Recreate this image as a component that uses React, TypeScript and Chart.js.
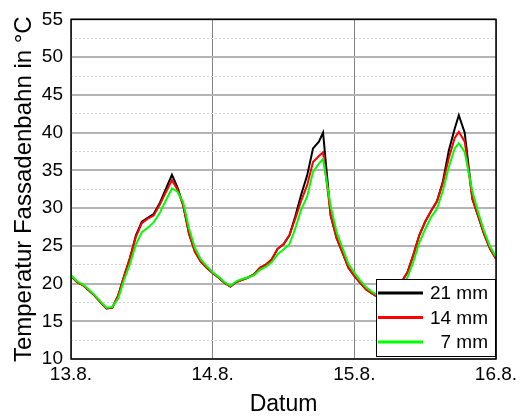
import React, { useEffect, useRef } from 'react';
import { Chart, registerables } from 'chart.js';

Chart.register(...registerables);

// time in hours since 13.8. 00:00
const hours = [
  0, 1, 2, 3, 4, 5, 6, 7, 8, 9, 10, 11, 12, 13, 14, 15, 16, 17.1, 18, 19, 20, 21, 22, 23,
  24, 25, 26, 27, 28, 29, 30, 31, 32, 33, 34, 35, 36, 37, 38, 39, 40, 41, 42, 42.7, 44, 45, 46, 47,
  48, 49, 50, 51, 52, 53, 54, 55, 56, 57, 58, 59, 60, 61, 62, 63, 64, 65, 65.7, 66.7, 68, 69, 70, 71, 72,
];

const temp21mm = [
  21.0, 20.2, 19.8, 19.1, 18.4, 17.5, 16.7, 16.8, 18.4, 21.0, 23.4, 26.4, 28.2, 28.7, 29.2, 30.6, 32.4, 34.4, 32.8, 30.4, 26.6, 24.2, 22.9, 22.1,
  21.4, 20.8, 20.1, 19.6, 20.2, 20.5, 20.8, 21.2, 22.1, 22.5, 23.2, 24.6, 25.2, 26.4, 28.9, 31.8, 34.3, 37.9, 38.8, 40.0, 29.0, 26.0, 24.1, 22.1,
  21.0, 20.1, 19.2, 18.7, 18.2, 17.8, 17.6, 18.6, 20.2, 21.5, 23.8, 26.4, 28.2, 29.6, 30.9, 33.5, 37.6, 40.5, 42.3, 40.0, 31.2, 28.9, 26.5, 24.6, 23.3,
];

const temp14mm = [
  21.0, 20.2, 19.8, 19.1, 18.4, 17.5, 16.7, 16.8, 18.4, 21.0, 23.4, 26.2, 28.0, 28.6, 29.0, 30.4, 32.0, 33.7, 32.5, 30.4, 26.6, 24.2, 22.9, 22.1,
  21.4, 20.8, 20.1, 19.6, 20.2, 20.5, 20.8, 21.2, 22.1, 22.5, 23.2, 24.6, 25.2, 26.4, 28.6, 31.0, 33.0, 36.1, 36.9, 37.4, 29.0, 26.0, 24.1, 22.1,
  21.0, 20.1, 19.2, 18.7, 18.2, 17.8, 17.6, 18.6, 20.2, 21.5, 23.8, 26.4, 28.2, 29.6, 30.9, 33.3, 36.6, 39.3, 40.1, 38.8, 31.2, 28.9, 26.5, 24.6, 23.3,
];

const temp7mm = [
  21.1, 20.3, 19.9, 19.2, 18.5, 17.6, 16.8, 16.9, 18.0, 20.5, 22.6, 25.2, 26.8, 27.4, 28.1, 29.3, 30.9, 32.6, 32.2, 30.8, 27.3, 24.7, 23.2, 22.3,
  21.5, 20.9, 20.2, 19.7, 20.3, 20.6, 20.8, 21.1, 21.8, 22.2, 22.8, 23.9, 24.5, 25.2, 27.3, 29.8, 31.5, 34.8, 35.9, 36.5, 30.2, 26.8, 24.7, 22.6,
  21.4, 20.4, 19.5, 18.9, 18.4, 18.0, 17.8, 18.3, 19.6, 20.8, 22.9, 25.4, 27.2, 28.8, 29.9, 32.3, 35.4, 37.9, 38.6, 37.4, 32.2, 29.4, 26.9, 24.9, 23.5,
];

const seriesLabels = ['21 mm', '14 mm', '7 mm'];
const seriesColors = ['#000000', '#ff0000', '#00ff00'];
const xTickLabels = ['13.8.', '14.8.', '15.8.', '16.8.'];
const yTitle = 'Temperatur Fassadenbahn in °C';
const xTitle = 'Datum';

const FONT = '"Liberation Sans", Arial, sans-serif';

const insideLegend = {
  id: 'insideLegend',
  afterDatasetsDraw(chart: any) {
    const { ctx, chartArea } = chart;
    const w = 120;
    const h = 78;
    const x0 = chartArea.right - w;
    const y0 = chartArea.bottom - h - 2;
    ctx.save();
    ctx.fillStyle = '#ffffff';
    ctx.fillRect(x0, y0, w, h);
    ctx.strokeStyle = '#000000';
    ctx.lineWidth = 1;
    ctx.strokeRect(x0 + 0.5, y0 + 0.5, w - 1, h - 1);
    ctx.font = `19px ${FONT}`;
    ctx.textAlign = 'right';
    ctx.textBaseline = 'middle';
    chart.data.datasets.forEach((ds: any, i: number) => {
      const y = y0 + 14 + i * 24.5;
      ctx.strokeStyle = ds.borderColor;
      ctx.lineWidth = 3;
      ctx.beginPath();
      ctx.moveTo(x0 + 2, y);
      ctx.lineTo(x0 + 47, y);
      ctx.stroke();
      ctx.fillStyle = '#000000';
      ctx.fillText(ds.label, x0 + w - 8, y + 1);
    });
    ctx.restore();
  },
};

const frame = {
  id: 'frame',
  afterDraw(chart: any) {
    const { ctx, chartArea } = chart;
    ctx.save();
    ctx.strokeStyle = '#000000';
    ctx.lineWidth = 1.5;
    ctx.strokeRect(chartArea.left, chartArea.top, chartArea.right - chartArea.left, chartArea.bottom - chartArea.top);
    ctx.restore();
  },
};

export default function App() {
  const ref = useRef<HTMLCanvasElement | null>(null);

  useEffect(() => {
    if (!ref.current) return;
    const mk = (vals: number[]) => hours.map((h, i) => ({ x: h, y: vals[i] }));
    const all = [temp21mm, temp14mm, temp7mm];
    const chart = new Chart(ref.current, {
      type: 'line',
      data: {
        datasets: all.map((vals, i) => ({
          label: seriesLabels[i],
          data: mk(vals),
          borderColor: seriesColors[i],
          backgroundColor: seriesColors[i],
          borderWidth: 2,
          pointRadius: 0,
          tension: 0,
          order: 3 - i,
        })),
      },
      options: {
        responsive: false,
        animation: false,
        layout: { padding: { left: 0, top: 15, right: 30, bottom: 0 } },
        plugins: { legend: { display: false }, tooltip: { enabled: false } },
        scales: {
          x: {
            type: 'linear',
            min: 0,
            max: 72,
            afterFit: (s: any) => { s.height = 57; },
            afterBuildTicks: (s: any) => {
              s.ticks = xTickLabels.map((_, i) => ({ value: i * 24 }));
            },
            ticks: {
              font: { family: FONT, size: 19 },
              color: '#000000',
              padding: 4,
              maxRotation: 0,
              autoSkip: false,
              callback: (v: any) => xTickLabels[Math.round(Number(v) / 24)] ?? '',
            },
            grid: { color: '#808080', lineWidth: 1, drawTicks: false },
            border: { display: false },
            title: {
              display: true,
              text: xTitle,
              color: '#000000',
              font: { family: FONT, size: 23, lineHeight: 1 },
              padding: { top: 0, bottom: 0 },
            },
          },
          y: {
            min: 10,
            max: 55,
            afterFit: (s: any) => { s.width = 71; },
            ticks: {
              stepSize: 2.5,
              autoSkip: false,
              font: { family: FONT, size: 19 },
              color: '#000000',
              padding: 8,
              callback: (v: any) => (Number(v) % 5 === 0 ? String(v) : ''),
            },
            grid: {
              drawTicks: false,
              color: (c: any) => (c.tick && c.tick.value % 5 !== 0 ? '#d2d2d2' : '#b4b4b4'),
              lineWidth: (c: any) => (c.tick && c.tick.value % 5 !== 0 ? 1 : 2),
            },
            border: {
              display: false,
              dash: (c: any) => (c.tick && c.tick.value % 5 !== 0 ? [2, 2] : []),
            },
            title: {
              display: true,
              text: yTitle,
              color: '#000000',
              font: { family: FONT, size: 24 },
              padding: { top: 10, bottom: 0 },
            },
          },
        },
      },
      plugins: [insideLegend, frame],
    } as any);
    return () => chart.destroy();
  }, []);

  return (
    <div style={{ position: 'fixed', left: 0, top: 0, width: 526, height: 416, background: '#ffffff' }}>
      <canvas ref={ref} width={526} height={416} />
    </div>
  );
}
